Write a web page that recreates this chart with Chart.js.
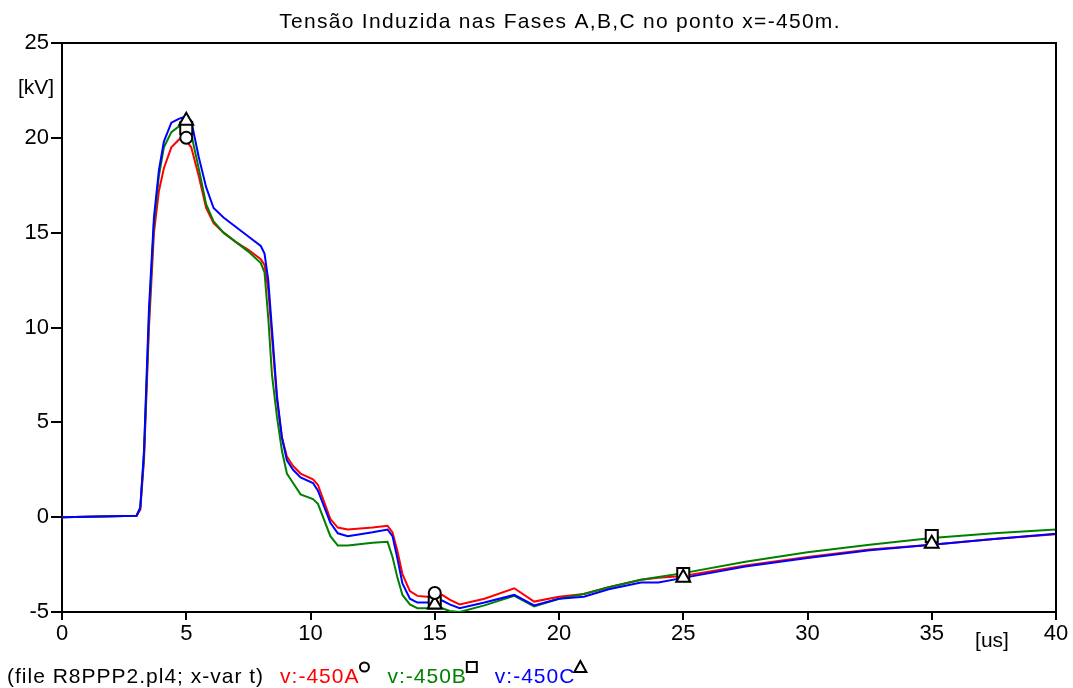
<!DOCTYPE html>
<html lang="pt">
<head>
  <meta charset="UTF-8">
  <title>Tensão Induzida nas Fases A,B,C</title>
  <script src="https://cdn.jsdelivr.net/npm/chart.js"></script>
  <style>
    body { margin: 0; background: #fff; }
    #chart { display: block; }
  </style>
</head>
<body>
  <canvas id="chart" width="1073" height="688"></canvas>
  <script>
    // tempo [us]
    const tempo = [0, 3.0, 3.15, 3.3, 3.5, 3.7, 3.9, 4.1, 4.4, 4.7, 4.9, 5.2, 5.5, 5.8, 6.1, 6.5, 7.0, 7.5, 8.0, 8.15,
      8.3, 8.45, 8.65, 8.85, 9.05, 9.3, 9.6, 10.1, 10.3, 10.8, 11.1, 11.5, 12.5, 13.1, 13.3, 13.5, 13.7, 14.0, 14.3, 14.7,
      15.0, 15.3, 15.6, 16.0, 17.0, 18.2, 19.0, 20.0, 21.0, 22.0, 23.3, 24.0, 25.0, 27.5, 30.0, 32.5, 35.0, 37.5, 40.0];

    // tensões [kV]
    const faseA = [0, 0.08, 0.4, 3.0, 10.0, 15.0, 17.2, 18.4, 19.5, 19.9, 20.0, 19.5, 18.0, 16.3, 15.5, 15.0, 14.5, 14.1, 13.6, 13.3,
      12.0, 9.5, 6.2, 4.2, 3.2, 2.7, 2.3, 2.0, 1.7, -0.1, -0.55, -0.65, -0.55, -0.45, -0.8, -1.8, -3.0, -3.9, -4.15, -4.2,
      -4.2, -4.1, -4.35, -4.6, -4.3, -3.75, -4.45, -4.2, -4.05, -3.7, -3.3, -3.2, -3.1, -2.55, -2.1, -1.7, -1.45, -1.15, -0.9];
    const faseB = [0, 0.08, 0.5, 3.3, 10.5, 15.5, 18.0, 19.5, 20.3, 20.6, 20.6, 20.2, 18.4, 16.5, 15.6, 15.0, 14.5, 14.0, 13.4, 12.9,
      10.5, 7.5, 5.3, 3.5, 2.3, 1.8, 1.2, 0.95, 0.7, -1.0, -1.5, -1.5, -1.35, -1.3, -2.1, -3.2, -4.1, -4.6, -4.8, -4.8,
      -4.7, -4.8, -4.95, -5.0, -4.65, -4.15, -4.7, -4.3, -4.05, -3.7, -3.3, -3.15, -2.95, -2.35, -1.85, -1.45, -1.1, -0.85, -0.65];
    const faseC = [0, 0.08, 0.5, 3.5, 11.0, 15.8, 18.3, 19.8, 20.8, 21.0, 21.1, 20.9, 19.0, 17.4, 16.3, 15.8, 15.3, 14.8, 14.3, 13.9,
      12.5, 9.9, 6.4, 4.2, 3.0, 2.5, 2.1, 1.8, 1.4, -0.3, -0.85, -1.0, -0.8, -0.65, -1.0, -2.2, -3.5, -4.3, -4.5, -4.5,
      -4.4, -4.4, -4.6, -4.8, -4.5, -4.1, -4.65, -4.3, -4.2, -3.8, -3.45, -3.45, -3.2, -2.6, -2.15, -1.75, -1.45, -1.15, -0.87];

    // marcadores
    const marcA_t = [5, 15];
    const marcA_v = [20.0, -4.0];
    const marcB_t = [5, 15, 25, 35];
    const marcB_v = [20.5, -4.5, -3.0, -1.0];
    const marcC_t = [5, 15, 25, 35];
    const marcC_v = [20.9, -4.6, -3.2, -1.4];

    const xTicks = [0, 5, 10, 15, 20, 25, 30, 35, 40];
    const yTicks = [-5, 0, 5, 10, 15, 20, 25];

    const FONT = '"Liberation Sans", Arial, sans-serif';

    function pontos(xs, ys) {
      return xs.map((x, i) => ({ x: x, y: ys[i] }));
    }

    function serie(label, ys, cor) {
      return {
        label: label, data: pontos(tempo, ys), borderColor: cor, borderWidth: 2,
        pointRadius: 0, fill: false, tension: 0
      };
    }

    function marcador(xs, ys, estilo, raio) {
      return {
        data: pontos(xs, ys), showLine: false, pointStyle: estilo, pointRadius: raio,
        pointBorderColor: '#000', pointBackgroundColor: '#fff', pointBorderWidth: 2
      };
    }

    // moldura, título, unidades e legenda
    const textos = {
      id: 'textos',
      afterDraw(chart) {
        const ctx = chart.ctx;
        const a = chart.chartArea;
        ctx.save();
        ctx.strokeStyle = '#000';
        ctx.lineWidth = 2;
        ctx.beginPath();
        ctx.moveTo(a.left, a.top);
        ctx.lineTo(a.right, a.top);
        ctx.lineTo(a.right, a.bottom);
        ctx.stroke();

        ctx.fillStyle = '#000';
        ctx.textBaseline = 'middle';
        ctx.textAlign = 'center';
        ctx.font = '21px ' + FONT;
        ctx.letterSpacing = '1.3px';
        ctx.fillText('Tensão Induzida nas Fases A,B,C no ponto x=-450m.', (a.left + a.right) / 2 + 1, 22);
        ctx.letterSpacing = '0px';
        ctx.font = '21px ' + FONT;
        ctx.fillText('[kV]', 36, 88);
        ctx.fillText('[us]', 992, 641);

        // legenda
        ctx.textAlign = 'left';
        ctx.font = '21px ' + FONT;
        ctx.letterSpacing = '1px';
        const y = 677;
        let x = 7;
        const partes = [
          ['(file R8PPP2.pl4; x-var t)', '#000', null],
          ['v:-450A', '#ff0000', 'circle'],
          ['v:-450B', '#008000', 'rect'],
          ['v:-450C', '#0000ff', 'triangle']
        ];
        partes.forEach(p => {
          ctx.fillStyle = p[1];
          ctx.fillText(p[0], x, y);
          x += ctx.measureText(p[0]).width;
          if (p[2]) {
            const cx = x + 5, cy = y - 10;
            ctx.strokeStyle = '#000';
            ctx.lineWidth = 2;
            ctx.beginPath();
            if (p[2] === 'circle') ctx.arc(cx, cy, 4.5, 0, Math.PI * 2);
            if (p[2] === 'rect') ctx.rect(cx - 5, cy - 5, 10, 10);
            if (p[2] === 'triangle') { ctx.moveTo(cx, cy - 6); ctx.lineTo(cx + 6, cy + 5); ctx.lineTo(cx - 6, cy + 5); ctx.closePath(); }
            ctx.stroke();
            x += 12;
          }
          x += 16;
        });
        ctx.restore();
      }
    };

    new Chart(document.getElementById('chart'), {
      type: 'line',
      data: {
        datasets: [
          marcador(marcA_t, marcA_v, 'circle', 6),
          marcador(marcC_t, marcC_v, 'triangle', 8),
          marcador(marcB_t, marcB_v, 'rect', 8.5),
          serie('v:-450C', faseC, '#0000ff'),
          serie('v:-450B', faseB, '#008000'),
          serie('v:-450A', faseA, '#ff0000')
        ]
      },
      options: {
        responsive: false,
        animation: false,
        layout: { padding: { top: 43, right: 17, left: 0, bottom: 0 } },
        scales: {
          x: {
            type: 'linear', min: 0, max: 40,
            afterBuildTicks: s => { s.ticks = xTicks.map(v => ({ value: v })); },
            afterFit: s => { s.height = 76; },
            grid: { drawOnChartArea: false, drawTicks: true, tickLength: 8, color: '#000', lineWidth: 2 },
            border: { color: '#000', width: 2 },
            ticks: { color: '#000', font: { family: FONT, size: 22 }, padding: 1, maxRotation: 0 }
          },
          y: {
            type: 'linear', min: -5, max: 25,
            afterBuildTicks: s => { s.ticks = yTicks.map(v => ({ value: v })); },
            afterFit: s => { s.width = 62; },
            grid: { drawOnChartArea: false, drawTicks: true, tickLength: 11, color: '#000', lineWidth: 2 },
            border: { color: '#000', width: 2 },
            ticks: { color: '#000', font: { family: FONT, size: 22 }, padding: 2 }
          }
        },
        plugins: {
          legend: { display: false },
          title: { display: false },
          tooltip: { enabled: false }
        }
      },
      plugins: [textos]
    });
  </script>
</body>
</html>
